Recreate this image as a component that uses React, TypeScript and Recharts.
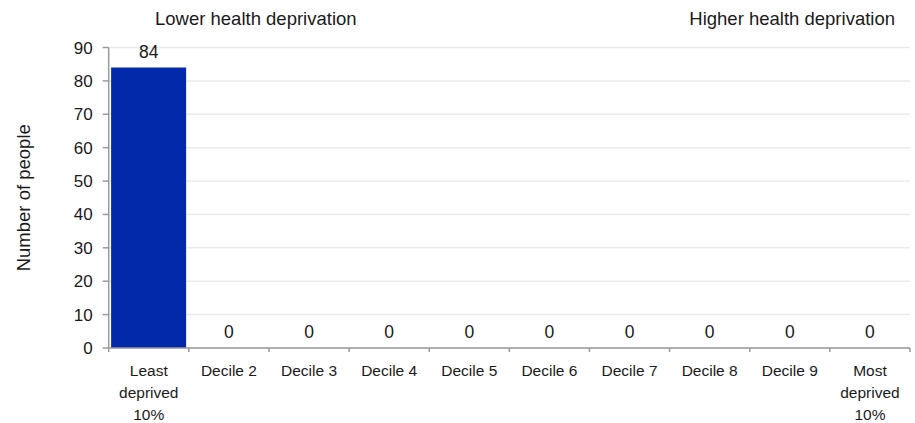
import React from 'react';
import { ComposedChart, Bar, Line, XAxis, YAxis, CartesianGrid, LabelList } from 'recharts';

const categories = ['Least\ndeprived\n10%', 'Decile 2', 'Decile 3', 'Decile 4', 'Decile 5', 'Decile 6', 'Decile 7', 'Decile 8', 'Decile 9', 'Most\ndeprived\n10%'];
const people = [84, 0, 0, 0, 0, 0, 0, 0, 0, 0];
const yTicks = [0, 10, 20, 30, 40, 50, 60, 70, 80, 90];

const data = categories.map((name, i) => ({ name, value: people[i] }));

const FONT = '"Liberation Sans", Arial, sans-serif';
const AXIS = '#9a9a9a';
const TEXT = '#1a1a1a';

const DecileTick = ({ x, y, payload }: any) => {
  const half = payload && payload.offset ? payload.offset : 40.1;
  const lines = String(payload.value).split('\n');
  const isLast = payload.index === categories.length - 1;
  return (
    <g>
      <line x1={x - half} y1={y} x2={x - half} y2={y + 4} stroke={AXIS} strokeWidth={1.5} />
      {isLast && <line x1={x + half} y1={y} x2={x + half} y2={y + 4} stroke={AXIS} strokeWidth={1.5} />}
      <text x={x} y={y + 28} textAnchor="middle" fill={TEXT} fontSize={15.5} fontFamily={FONT}>
        {lines.map((l, i) => (
          <tspan key={i} x={x} dy={i === 0 ? 0 : 22}>{l}</tspan>
        ))}
      </text>
    </g>
  );
};

const YLabel = ({ viewBox }: any) => {
  const cy = viewBox.y + viewBox.height / 2;
  return (
    <text x={30} y={cy} transform={`rotate(-90, 30, ${cy})`} textAnchor="middle" fill={TEXT} fontSize={18.5} fontFamily={FONT}>
      Number of people
    </text>
  );
};

export default function App() {
  return (
    <div style={{ position: 'absolute', left: 0, top: 0, width: 915, height: 423, background: '#fff', fontFamily: FONT }}>
      <div style={{ position: 'absolute', left: 155, top: 9, fontSize: 18.5, lineHeight: '20px', color: TEXT, whiteSpace: 'nowrap' }}>
        Lower health deprivation
      </div>
      <div style={{ position: 'absolute', right: 20, top: 9, fontSize: 18.5, lineHeight: '20px', color: TEXT, whiteSpace: 'nowrap' }}>
        Higher health deprivation
      </div>
      <ComposedChart
        width={915}
        height={423}
        data={data}
        margin={{ top: 47.5, right: 5, bottom: 0, left: 0 }}
        barCategoryGap="3%"
      >
        <CartesianGrid vertical={false} stroke="#ebebeb" strokeWidth={1.5} />
        <XAxis
          dataKey="name"
          height={75}
          interval={0}
          tickLine={false}
          tickSize={0}
          tickMargin={0}
          axisLine={{ stroke: AXIS, strokeWidth: 1.5 }}
          tick={<DecileTick />}
        />
        <YAxis
          width={108.7}
          domain={[0, 90]}
          ticks={yTicks}
          interval={0}
          tickSize={6}
          tickMargin={10}
          tickLine={{ stroke: AXIS, strokeWidth: 1.5 }}
          axisLine={{ stroke: AXIS, strokeWidth: 1.5 }}
          tick={{ fill: TEXT, fontSize: 17, fontFamily: FONT }}
          label={<YLabel />}
        />
        <Bar dataKey="value" fill="#0229a9" isAnimationActive={false} />
        <Line dataKey="value" stroke="none" dot={false} activeDot={false} isAnimationActive={false}>
          <LabelList dataKey="value" position="top" offset={10} fill={TEXT} fontSize={17.5} fontFamily={FONT} />
        </Line>
      </ComposedChart>
    </div>
  );
}
